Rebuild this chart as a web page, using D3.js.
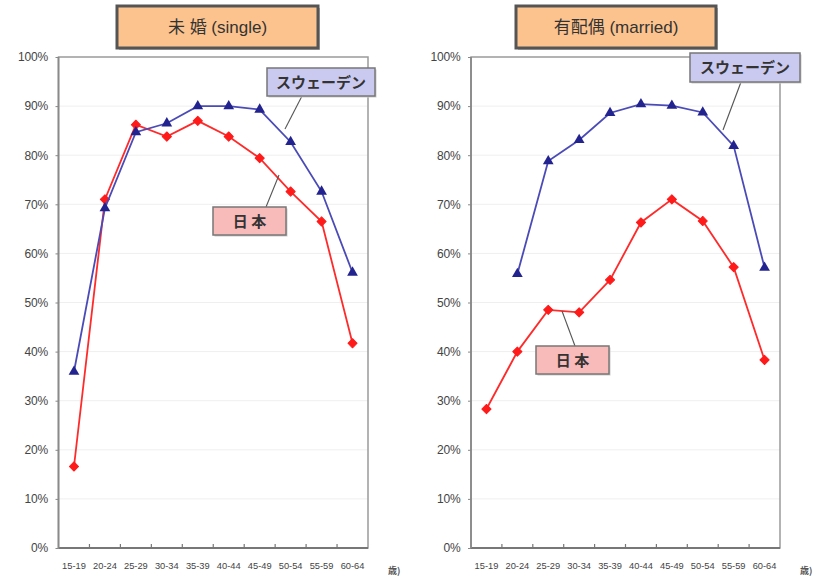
<!DOCTYPE html>
<html><head><meta charset="utf-8">
<script src="https://cdn.jsdelivr.net/npm/d3@7"></script>
<style>
body{margin:0;background:#fff;}
svg{display:block;}
</style></head>
<body>
<svg id="c" width="823" height="576"></svg>
<script>
const ageGroups = ["15-19","20-24","25-29","30-34","35-39","40-44","45-49","50-54","55-59","60-64"];
const singleSweden = [35.9, 69.2, 84.7, 86.5, 90.0, 90.0, 89.3, 82.7, 72.6, 56.1];
const singleJapan  = [16.6, 71.0, 86.2, 83.8, 87.0, 83.8, 79.4, 72.6, 66.5, 41.7];
const marriedSweden = [null, 55.8, 78.8, 83.1, 88.6, 90.4, 90.1, 88.7, 81.9, 57.1];
const marriedJapan  = [28.3, 40.0, 48.5, 48.0, 54.6, 66.3, 71.0, 66.6, 57.2, 38.3];
const yTicks = [0,10,20,30,40,50,60,70,80,90,100];
const seriesNames = ["スウェーデン", "日 本"];
const panelTitles = ["未 婚 (single)", "有配偶 (married)"];
const unitLabel = "歳)";

const svg = d3.select("#c");
const latin = "'Liberation Sans', Arial, sans-serif";
const mixed = "'Liberation Sans', 'Noto Sans CJK JP', sans-serif";
const jp = "'Noto Sans CJK JP', 'Liberation Sans', sans-serif";

const panels = [
  {title: panelTitles[0], sw: singleSweden, jp: singleJapan, x0: 58.5, x1: 368,
   titleBox: [117, 6, 201, 42],
   swBox: [267, 68, 108, 28], swLead: [[302, 96], [285, 129]],
   jpBox: [213, 207, 73, 28], jpLead: [[266, 207], [279, 175]]},
  {title: panelTitles[1], sw: marriedSweden, jp: marriedJapan, x0: 471, x1: 780,
   titleBox: [516, 6, 200, 42],
   swBox: [690, 53, 110, 29], swLead: [[741, 82], [723, 130]],
   jpBox: [536, 346, 73, 28], jpLead: [[575, 346], [562, 311]]}
];

const yTop = 57, yBot = 548;
const y = d3.scaleLinear().domain([0, 100]).range([yBot, yTop]);

panels.forEach(p => {
  const g = svg.append("g");
  const x = d3.scaleBand().domain(ageGroups).range([p.x0, p.x1]);

  g.selectAll(".grid").data(yTicks.filter(t => t > 0 && t < 100)).join("line")
    .attr("x1", p.x0).attr("x2", p.x1)
    .attr("y1", d => y(d)).attr("y2", d => y(d))
    .attr("stroke", "#efefef").attr("stroke-width", 1);

  g.append("rect").attr("x", p.x0).attr("y", yTop).attr("width", p.x1 - p.x0).attr("height", yBot - yTop)
    .attr("fill", "none").attr("stroke", "#9a9a9a").attr("stroke-width", 1.5);
  g.append("line").attr("x1", p.x0).attr("x2", p.x1).attr("y1", yBot).attr("y2", yBot)
    .attr("stroke", "#777").attr("stroke-width", 2);
  g.append("line").attr("x1", p.x0).attr("x2", p.x0).attr("y1", yTop).attr("y2", yBot)
    .attr("stroke", "#8a8a8a").attr("stroke-width", 1.8);

  const ya = d3.axisLeft(y).tickValues(yTicks).tickSize(3).tickFormat(d => d + "%");
  const yg = g.append("g").attr("transform", `translate(${p.x0},0)`).call(ya);
  yg.select(".domain").remove();
  yg.selectAll(".tick line").attr("stroke", "#888");
  yg.selectAll(".tick text").attr("x", -10.5).attr("font-family", latin).attr("font-size", 12)
    .attr("fill", "#444").attr("letter-spacing", "-0.2px");

  const xa = d3.axisBottom(x).tickSize(0);
  const xg = g.append("g").attr("transform", `translate(0,${yBot})`).call(xa);
  xg.select(".domain").remove();
  xg.selectAll(".tick text").attr("dy", 0).attr("y", 21).attr("font-family", latin)
    .attr("font-size", 9.3).attr("fill", "#444");
  g.selectAll(".bt").data(ageGroups.slice(1)).join("line")
    .attr("x1", d => x(d)).attr("x2", d => x(d))
    .attr("y1", yBot).attr("y2", yBot - 4).attr("stroke", "#777").attr("stroke-width", 1.2);

  g.append("text").attr("x", p.x1 + 20).attr("y", 574).attr("font-family", jp)
    .attr("font-size", 9).attr("font-weight", "bold").attr("fill", "#555").text(unitLabel);

  const line = d3.line().defined(d => d != null)
    .x((d, i) => x(ageGroups[i]) + x.bandwidth() / 2).y(d => y(d));

  g.append("path").datum(p.jp).attr("d", line).attr("fill", "none")
    .attr("stroke", "#ff2a2a").attr("stroke-width", 1.8);
  g.selectAll(".mj").data(p.jp.map((v, i) => ({v, i})).filter(d => d.v != null)).join("path")
    .attr("transform", d => `translate(${x(ageGroups[d.i]) + x.bandwidth() / 2},${y(d.v)}) rotate(45)`)
    .attr("d", d3.symbol(d3.symbolSquare, 42)).attr("fill", "#ff1a1a")
    .attr("stroke", "#ff1a1a").attr("stroke-width", 1).attr("stroke-linejoin", "round");

  g.append("path").datum(p.sw).attr("d", line).attr("fill", "none")
    .attr("stroke", "#4b4bb8").attr("stroke-width", 1.8);
  g.selectAll(".ms").data(p.sw.map((v, i) => ({v, i})).filter(d => d.v != null)).join("path")
    .attr("transform", d => `translate(${x(ageGroups[d.i]) + x.bandwidth() / 2},${y(d.v)})`)
    .attr("d", d3.symbol(d3.symbolTriangle, 50)).attr("fill", "#23238f");

  const [tx, ty, tw, th] = p.titleBox;
  g.append("rect").attr("x", tx + 2).attr("y", ty + 2).attr("width", tw).attr("height", th).attr("fill", "#bbb");
  g.append("rect").attr("x", tx).attr("y", ty).attr("width", tw).attr("height", th)
    .attr("fill", "#fcc38e").attr("stroke", "#555").attr("stroke-width", 3);
  g.append("text").attr("x", tx + tw / 2).attr("y", ty + th / 2 + 6).attr("text-anchor", "middle")
    .attr("font-family", mixed).attr("font-size", 17).attr("fill", "#333").text(p.title);

  [p.swLead, p.jpLead].forEach(l => {
    g.append("line").attr("x1", l[0][0]).attr("y1", l[0][1]).attr("x2", l[1][0]).attr("y2", l[1][1])
      .attr("stroke", "#555").attr("stroke-width", 1.1);
  });

  const labBox = (b, fill, text) => {
    g.append("rect").attr("x", b[0] + 1.5).attr("y", b[1] + 1.5).attr("width", b[2]).attr("height", b[3]).attr("fill", "#ccc");
    g.append("rect").attr("x", b[0]).attr("y", b[1]).attr("width", b[2]).attr("height", b[3])
      .attr("fill", fill).attr("stroke", "#777").attr("stroke-width", 1.5);
    g.append("text").attr("x", b[0] + b[2] / 2).attr("y", b[1] + b[3] / 2 + 5.5).attr("text-anchor", "middle")
      .attr("font-family", jp).attr("font-weight", "bold").attr("font-size", 15).attr("fill", "#333").text(text);
  };
  labBox(p.swBox, "#cacaf0", seriesNames[0]);
  labBox(p.jpBox, "#f9baba", seriesNames[1]);
});
</script>
</body></html>
